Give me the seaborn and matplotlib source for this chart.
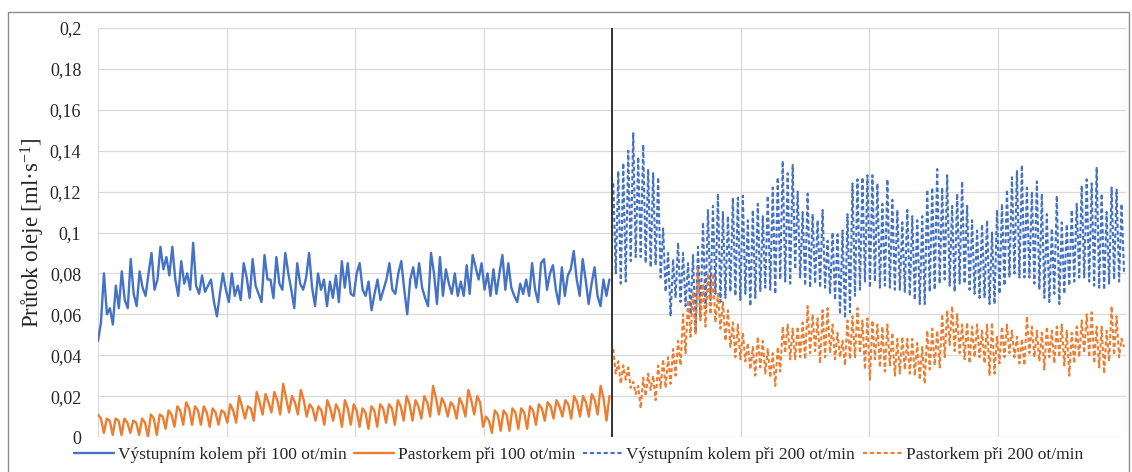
import numpy as np
import pandas as pd
import matplotlib
matplotlib.use("Agg")
import matplotlib.pyplot as plt
from matplotlib.patches import Rectangle
import seaborn as sns

# ---------------------------------------------------------------- data
series_names = [
    "Výstupním kolem při 100 ot/min",
    "Pastorkem při 100 ot/min",
    "Výstupním kolem při 200 ot/min",
    "Pastorkem při 200 ot/min",
]
y_ticks = [0, 0.02, 0.04, 0.06, 0.08, 0.1, 0.12, 0.14, 0.16, 0.18, 0.2]
y_tick_labels = ["0", "0,02", "0,04", "0,06", "0,08", "0,1",
                 "0,12", "0,14", "0,16", "0,18", "0,2"]
y_label = "Průtok oleje [ml·s$^{-1}$]"

# oil flow through the output wheel, 100 rpm run
wheel_100 = [
    0.047, 0.056, 0.080, 0.060, 0.063, 0.055, 0.074, 0.063, 0.081, 0.067,
    0.063, 0.087, 0.070, 0.064, 0.081, 0.073, 0.069, 0.080, 0.090, 0.072,
    0.077, 0.093, 0.082, 0.088, 0.079, 0.093, 0.077, 0.069, 0.086, 0.075,
    0.080, 0.072, 0.095, 0.074, 0.070, 0.079, 0.071, 0.074, 0.077, 0.066,
    0.059, 0.070, 0.080,
    0.072, 0.066, 0.080, 0.069, 0.074, 0.067, 0.085, 0.078, 0.068, 0.087,
    0.074, 0.070, 0.066, 0.089, 0.077, 0.077, 0.068, 0.088, 0.075, 0.072,
    0.090, 0.080, 0.072, 0.063, 0.085, 0.075, 0.072, 0.078, 0.090, 0.073,
    0.064, 0.080, 0.072, 0.077, 0.064, 0.076, 0.068, 0.079, 0.066, 0.086,
    0.073, 0.085, 0.070,
    0.069, 0.080, 0.085, 0.072, 0.069, 0.076, 0.062, 0.070, 0.077, 0.067,
    0.072, 0.077, 0.085, 0.072, 0.070, 0.080, 0.086, 0.072, 0.060, 0.077,
    0.083, 0.073, 0.085, 0.073, 0.068, 0.064, 0.090, 0.080, 0.065, 0.088,
    0.069, 0.082, 0.075, 0.070, 0.080, 0.069, 0.076, 0.069, 0.084, 0.070,
    0.089, 0.083, 0.077,
    0.085, 0.072, 0.080, 0.069, 0.082, 0.070, 0.080, 0.089, 0.072, 0.085,
    0.073, 0.069, 0.066, 0.075, 0.070, 0.077, 0.069, 0.085, 0.072, 0.066,
    0.085, 0.087, 0.072, 0.080, 0.084, 0.072, 0.065, 0.083, 0.069, 0.079,
    0.082, 0.091, 0.077, 0.069, 0.087, 0.077, 0.065, 0.075, 0.083, 0.069,
    0.064, 0.077, 0.069, 0.077,
]

# oil flow through the pinion, 100 rpm run (rise, shoulder, dip per stroke)
pinion_100 = [
    0.011, 0.009, 0.002,  0.009, 0.008, 0.001,  0.009, 0.008, 0.001,
    0.009, 0.007, 0.002,  0.008, 0.007, 0.001,  0.009, 0.007, 0.000,
    0.011, 0.009, 0.001,  0.011, 0.010, 0.004,  0.013, 0.011, 0.005,
    0.015, 0.013, 0.006,  0.017, 0.014, 0.006,  0.015, 0.013, 0.006,
    0.015, 0.012, 0.005,  0.014, 0.012, 0.006,  0.013, 0.012, 0.007,
    0.016, 0.013, 0.007,  0.020, 0.015, 0.009,  0.015, 0.014, 0.008,
    0.022, 0.017, 0.011,  0.021, 0.017, 0.012,  0.022, 0.018, 0.011,
    0.026, 0.019, 0.012,  0.020, 0.017, 0.011,  0.023, 0.018, 0.010,
    0.016, 0.014, 0.008,  0.015, 0.013, 0.006,  0.018, 0.014, 0.008,
    0.016, 0.013, 0.005,  0.018, 0.014, 0.006,  0.016, 0.013, 0.005,
    0.014, 0.012, 0.004,  0.015, 0.013, 0.005,  0.016, 0.014, 0.007,
    0.016, 0.014, 0.006,  0.018, 0.015, 0.008,  0.020, 0.016, 0.008,
    0.018, 0.015, 0.009,  0.020, 0.017, 0.010,  0.025, 0.019, 0.011,
    0.019, 0.016, 0.010,  0.017, 0.015, 0.009,  0.019, 0.016, 0.010,
    0.023, 0.018, 0.011,  0.020, 0.017, 0.005,  0.010, 0.008, 0.002,
    0.013, 0.011, 0.003,  0.013, 0.011, 0.003,  0.014, 0.012, 0.004,
    0.014, 0.012, 0.004,  0.015, 0.013, 0.006,  0.016, 0.014, 0.008,
    0.017, 0.015, 0.009,  0.018, 0.015, 0.010,  0.018, 0.016, 0.009,
    0.020, 0.017, 0.010,  0.020, 0.017, 0.010,  0.021, 0.018, 0.011,
    0.025, 0.019, 0.008,  0.020,
]

# 200 rpm run: stroke maxima and minima
wheel_200_peaks = [
    0.124, 0.130, 0.134, 0.140, 0.149, 0.137, 0.143, 0.131, 0.129, 0.127,
    0.102, 0.090, 0.087, 0.095, 0.090, 0.085, 0.089, 0.093, 0.105, 0.111,
    0.113, 0.119, 0.110, 0.108, 0.117, 0.117, 0.118, 0.106, 0.111, 0.114,
    0.108, 0.118, 0.122, 0.127, 0.135, 0.129, 0.133, 0.120, 0.110, 0.119,
    0.109, 0.106, 0.111, 0.096, 0.100, 0.099, 0.101, 0.109, 0.124, 0.126,
    0.127, 0.128, 0.128, 0.124, 0.114, 0.126, 0.116, 0.111, 0.105, 0.111,
    0.108, 0.106, 0.108, 0.121, 0.122, 0.131, 0.122, 0.128, 0.113, 0.119,
    0.125, 0.113, 0.106, 0.101, 0.104, 0.106, 0.100, 0.111, 0.114, 0.121,
    0.127, 0.130, 0.133, 0.122, 0.120, 0.125, 0.119, 0.109, 0.102, 0.118,
    0.105, 0.104, 0.111, 0.114, 0.123, 0.126, 0.124, 0.132, 0.119, 0.110,
    0.122, 0.121, 0.114,
]
wheel_200_troughs = [
    0.080, 0.075, 0.076, 0.086, 0.088, 0.088, 0.085, 0.083, 0.084, 0.078,
    0.071, 0.059, 0.068, 0.066, 0.064, 0.060, 0.051, 0.058, 0.063, 0.067,
    0.070, 0.066, 0.068, 0.071, 0.069, 0.067, 0.070, 0.064, 0.068, 0.071,
    0.073, 0.072, 0.070, 0.077, 0.076, 0.075, 0.082, 0.078, 0.074, 0.073,
    0.075, 0.073, 0.073, 0.070, 0.067, 0.060, 0.058, 0.061, 0.069, 0.072,
    0.076, 0.073, 0.076, 0.073, 0.074, 0.073, 0.072, 0.072, 0.071, 0.069,
    0.067, 0.065, 0.065, 0.071, 0.072, 0.075, 0.077, 0.074, 0.071, 0.075,
    0.075, 0.072, 0.070, 0.068, 0.068, 0.065, 0.065, 0.070, 0.074, 0.078,
    0.080, 0.078, 0.078, 0.078, 0.075, 0.072, 0.068, 0.066, 0.070, 0.065,
    0.070, 0.074, 0.076, 0.078, 0.078, 0.076, 0.074, 0.073, 0.072, 0.075,
    0.077, 0.076, 0.080,
]
pinion_200_peaks = [
    0.043, 0.037, 0.035, 0.034, 0.027, 0.025, 0.029, 0.031, 0.030, 0.035,
    0.038, 0.039, 0.043, 0.047, 0.060, 0.067, 0.071, 0.083, 0.075, 0.080,
    0.080, 0.070, 0.066, 0.062, 0.056, 0.055, 0.051, 0.046, 0.044, 0.049,
    0.047, 0.043, 0.041, 0.044, 0.054, 0.055, 0.053, 0.054, 0.056, 0.064,
    0.060, 0.058, 0.062, 0.063, 0.055, 0.051, 0.047, 0.057, 0.059, 0.063,
    0.057, 0.058, 0.057, 0.055, 0.054, 0.055, 0.051, 0.048, 0.049, 0.048,
    0.048, 0.046, 0.044, 0.052, 0.053, 0.052, 0.060, 0.062, 0.064, 0.060,
    0.055, 0.056, 0.054, 0.055, 0.052, 0.055, 0.056, 0.049, 0.054, 0.055,
    0.052, 0.049, 0.048, 0.059, 0.054, 0.052, 0.051, 0.054, 0.052, 0.054,
    0.055, 0.052, 0.051, 0.054, 0.057, 0.060, 0.061, 0.054, 0.054, 0.052,
    0.064, 0.059, 0.048,
]
pinion_200_troughs = [
    0.031, 0.026, 0.028, 0.024, 0.021, 0.014, 0.020, 0.023, 0.018, 0.024,
    0.024, 0.026, 0.030, 0.035, 0.041, 0.049, 0.050, 0.057, 0.054, 0.060,
    0.056, 0.053, 0.047, 0.044, 0.039, 0.038, 0.037, 0.033, 0.030, 0.034,
    0.031, 0.029, 0.025, 0.032, 0.041, 0.038, 0.038, 0.039, 0.038, 0.041,
    0.042, 0.036, 0.039, 0.041, 0.038, 0.039, 0.035, 0.038, 0.039, 0.041,
    0.033, 0.028, 0.038, 0.034, 0.032, 0.035, 0.030, 0.031, 0.033, 0.031,
    0.030, 0.028, 0.026, 0.033, 0.035, 0.034, 0.039, 0.045, 0.042, 0.041,
    0.038, 0.036, 0.039, 0.039, 0.036, 0.030, 0.031, 0.036, 0.039, 0.041,
    0.039, 0.036, 0.035, 0.041, 0.039, 0.037, 0.033, 0.039, 0.036, 0.039,
    0.035, 0.030, 0.036, 0.039, 0.041, 0.039, 0.036, 0.034, 0.031, 0.037,
    0.040, 0.039, 0.044,
]

# ---------------------------------------------------------------- tables
def alternate(highs, lows):
    return np.column_stack([highs, lows]).ravel()

wheel_200 = alternate(wheel_200_peaks, wheel_200_troughs)
pinion_200 = alternate(pinion_200_peaks, pinion_200_troughs)

# time axis: first run occupies 0-40, second run 40-80
frames = []
for name, values, t0, t1 in [
    (series_names[0], wheel_100, 0.0, 39.8),
    (series_names[1], pinion_100, 0.0, 39.8),
    (series_names[2], wheel_200, 40.1, 79.85),
    (series_names[3], pinion_200, 40.1, 79.85),
]:
    frames.append(pd.DataFrame({"t": np.linspace(t0, t1, len(values)),
                                "flow": values, "series": name}))

# ---------------------------------------------------------------- style
sns.set_theme(style="white")
plt.rcParams["font.family"] = ["Liberation Serif", "DejaVu Serif"]
plt.rcParams["mathtext.fontset"] = "custom"
plt.rcParams["mathtext.rm"] = "Liberation Serif"
plt.rcParams["mathtext.it"] = "Liberation Serif:italic"

BLUE = "#4472C4"
ORANGE = "#ED7D31"
GRID = "#d9d9d9"
TEXT = "#262626"

fig = plt.figure(figsize=(11.32, 4.72), dpi=100)
ax = fig.add_axes([98 / 1132, 1 - 437 / 472, 1028 / 1132, 409 / 472])

styles = [
    (BLUE, "-", 1.7),
    (ORANGE, "-", 1.7),
    (BLUE, (0, (2.0, 1.3)), 1.5),
    (ORANGE, (0, (2.0, 1.3)), 1.5),
]
for df, (color, ls, lw) in zip(frames, styles):
    sns.lineplot(data=df, x="t", y="flow", ax=ax, color=color,
                 linestyle=ls, linewidth=lw, errorbar=None,
                 label=df["series"].iloc[0], legend=False)

# separator between the two runs
ax.axvline(40, color=TEXT, lw=1.3, zorder=5)

ax.set_xlim(0, 80)
ax.set_ylim(0, 0.2)
ax.set_xticks(np.arange(0, 81, 10))
ax.set_xticklabels([])
ax.set_yticks(y_ticks)
ax.set_yticklabels(y_tick_labels, fontsize=13, color=TEXT)
ax.tick_params(axis="both", length=0, pad=12)
ax.grid(True, color=GRID, lw=0.9)
ax.set_axisbelow(True)
for s in ax.spines.values():
    s.set_visible(False)
ax.set_xlabel("")
ax.set_ylabel(y_label, fontsize=16.5, color=TEXT, labelpad=2)

handles, labels = ax.get_legend_handles_labels()
fig.legend(handles, labels, loc="center", bbox_to_anchor=(579 / 1132, 1 - 455 / 472),
           ncol=4, frameon=False, fontsize=12.5, handlelength=2.3,
           handletextpad=0.2, columnspacing=0.45, labelcolor=TEXT)

# outer frame of the chart
fig.patches.append(Rectangle((8 / 1132, -0.05), 1121 / 1132, 1.05 - 12 / 472,
                             transform=fig.transFigure, fill=False,
                             edgecolor="#8c8c8c", lw=1.0))

fig.savefig("out.png", dpi=100)
